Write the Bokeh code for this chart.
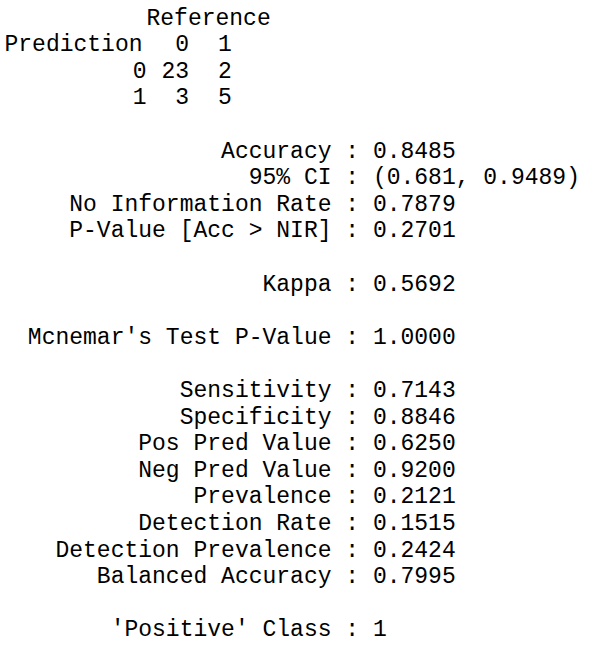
from bokeh.plotting import figure
from bokeh.models import Range1d, ColumnDataSource
from bokeh.core.properties import value
from bokeh.embed import file_html
from bokeh.resources import INLINE

# ---- data ----
ref_header = "Reference"
pred_header = "Prediction"
classes = ["0", "1"]
cm = [[23, 2], [3, 5]]

stat_labels = [
    "Accuracy", "95% CI", "No Information Rate", "P-Value [Acc > NIR]",
    "Kappa", "Mcnemar's Test P-Value",
    "Sensitivity", "Specificity", "Pos Pred Value", "Neg Pred Value",
    "Prevalence", "Detection Rate", "Detection Prevalence", "Balanced Accuracy",
    "'Positive' Class",
]
stat_values = [
    "0.8485", "(0.681, 0.9489)", "0.7879", "0.2701",
    "0.5692", "1.0000",
    "0.7143", "0.8846", "0.6250", "0.9200",
    "0.2121", "0.1515", "0.2424", "0.7995",
    "1",
]
# printed line index of each statistic (blank lines in between)
stat_lines = [5, 6, 7, 8, 10, 12, 14, 15, 16, 17, 18, 19, 20, 21, 23]

# ---- layout ----
W, H = 580, 653
PITCH = 14.2          # column pitch of the reference print-out
SIZE_PX = 23
ADV = 0.6001 * SIZE_PX  # advance width of Liberation Mono
X0 = 4.0              # left edge of column 0
Y0 = 18.0             # baseline of line 0
LH = 26.6             # line height
DIGIT_DY = -2.0       # digit-only strings sit slightly lower; lift them
FONT = value("Liberation Mono")
SIZE = f"{SIZE_PX}px"

def col(c):
    return X0 + c * PITCH

def line(i):
    return Y0 + i * LH

p = figure(width=W, height=H, output_backend="svg", toolbar_location=None,
           x_range=Range1d(0, W), y_range=Range1d(H, 0),
           min_border=0, x_axis_location=None, y_axis_location=None,
           tools="")
p.grid.visible = False
p.outline_line_color = None
p.background_fill_color = "white"
p.border_fill_color = "white"

common = dict(text_font=FONT, text_font_size=SIZE, text_color="black",
              text_baseline="alphabetic")

# header lines
p.text(x=[col(10), col(0)], y=[line(0), line(1)],
       text=[ref_header, pred_header], text_align="left", **common)

# column class labels (right aligned) and row class labels
cls_right = [col(13), col(16)]
p.text(x=cls_right, y=[line(1) + DIGIT_DY] * 2, text=classes,
       text_align="right", **common)
p.text(x=[col(10)] * 2, y=[line(2) + DIGIT_DY, line(3) + DIGIT_DY],
       text=classes, text_align="right", **common)

# matrix cells
xs, ys, ts = [], [], []
for r, row in enumerate(cm):
    for c, v in enumerate(row):
        xs.append(cls_right[c])
        ys.append(line(2 + r) + DIGIT_DY)
        ts.append(str(v))
p.text(x=xs, y=ys, text=ts, text_align="right", **common)

# statistics: one string per line, anchored so that the colons line up
colon_x = col(24)
src = ColumnDataSource(dict(
    txt=[f"{l} : {v}" for l, v in zip(stat_labels, stat_values)],
    x=[colon_x - (len(l) + 1) * ADV for l in stat_labels],
    y=[line(i) for i in stat_lines],
))
p.text(x="x", y="y", text="txt", source=src, text_align="left", **common)

open("out.html", "w").write(file_html(p, INLINE))
